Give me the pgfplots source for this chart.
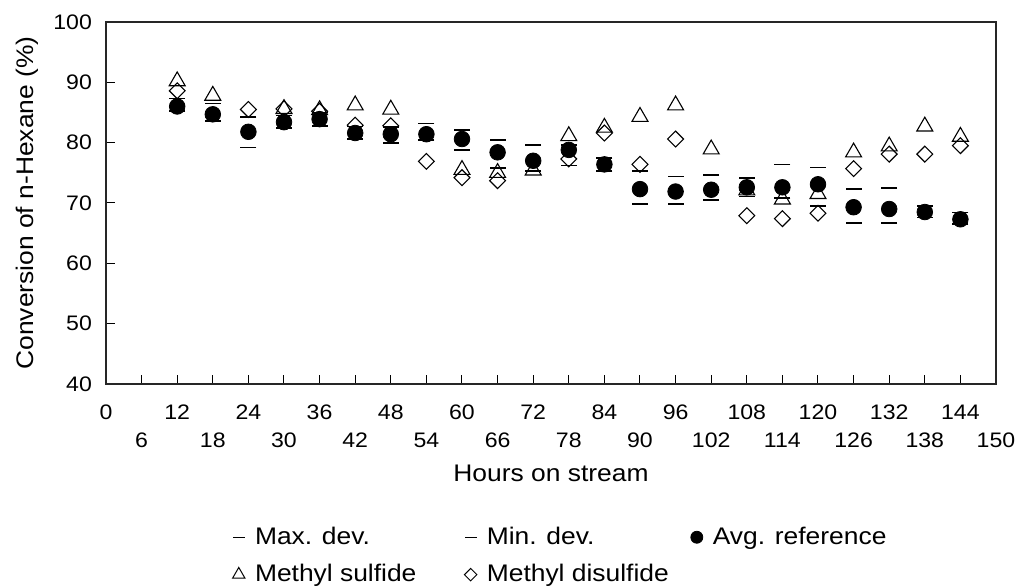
\documentclass[border=0pt]{standalone}
\usepackage{fontspec}
\setmainfont{Liberation Sans}[FakeStretch=1.1]
\usepackage{pgfplots}
\pgfplotsset{compat=1.18}

\begin{document}
\begin{tikzpicture}
\useasboundingbox (-53pt,-102pt) rectangle (456.5pt,192pt);
\begin{axis}[
  scale only axis,
  width=445pt, height=181pt,
  xmin=0, xmax=150, ymin=40, ymax=100,
  xtick={0,6,...,150},
  ytick={40,50,...,100},
  xtick pos=bottom, ytick pos=left,
  tick align=inside,
  major tick length=4.5pt,
  tick style={black, line width=0.5pt},
  axis line style={black!85, line width=0.6pt},
  /pgf/number format/assume math mode=true,
  % labels of every second tick go one row lower
  xticklabel style={font=\fontsize{10.5}{12}\selectfont,
    yshift={-7pt-14pt*mod(\ticknum,2)}},
  yticklabel style={font=\fontsize{10.5}{12}\selectfont, xshift=-3.5pt},
  xlabel={Hours on stream},
  ylabel={Conversion of n-Hexane (\%)},
  label style={font=\fontsize{12}{14}\selectfont},
  xlabel style={at={(axis description cs:0.5,0)}, anchor=center, yshift=-44.5pt},
  ylabel style={at={(axis description cs:-0.0888,0.5)}, anchor=center},
  legend columns=3,
  legend cell align=left,
  legend style={at={(axis description cs:0.135,-0.372)}, anchor=north west,
    draw=none, fill=none, font=\fontsize{12}{14}\selectfont,
    /tikz/every odd column/.append style={column sep=3pt},
    /tikz/column 2/.append style={column sep=22pt},
    /tikz/column 4/.append style={column sep=9pt},
    row sep=4.5pt},
  clip=false,
]
% legend entries
\addlegendimage{only marks, mark=-, mark size=3pt, mark options={line width=0.7pt}}
\addlegendentry{Max. dev.}
\addlegendimage{only marks, mark=-, mark size=3pt, mark options={line width=0.7pt}}
\addlegendentry{Min. dev.}
\addlegendimage{only marks, mark=*, mark size=3pt, black}
\addlegendentry{Avg. reference}
\addlegendimage{only marks, mark=triangle, mark size=3.6pt, black, mark options={line width=0.5pt}}
\addlegendentry{Methyl sulfide}
\addlegendimage{only marks, mark=square, mark size=2.2pt, black, mark options={rotate=45, line width=0.5pt}}
\addlegendentry{Methyl disulfide}

% methyl sulfide
\addplot[forget plot, only marks, mark=triangle, mark size=4.6pt, black, mark options={line width=0.55pt}]
coordinates {(12,90.2) (18,87.8) (30,85.6) (36,85.4) (42,86.2) (48,85.5)
 (60,75.5) (66,75.0) (72,75.4) (78,81.1) (84,82.5) (90,84.3) (96,86.2)
 (102,78.9) (108,72.1) (114,70.6) (120,71.5) (126,78.4) (132,79.4)
 (138,82.7) (144,81.0)};
% methyl disulfide
\addplot[forget plot, only marks, mark=square, mark size=2.8pt, black, mark options={rotate=45, line width=0.55pt}]
coordinates {(12,88.6) (24,85.5) (30,85.6) (36,85.2) (42,82.9) (48,82.8)
 (54,76.9) (60,74.2) (66,73.7) (78,77.3) (84,81.6) (90,76.4) (96,80.6)
 (108,67.9) (114,67.4) (120,68.3) (126,75.7) (132,78.1) (138,78.1) (144,79.5)};
% average of reference runs
\addplot[forget plot, only marks, mark=*, mark size=3.9pt, black]
coordinates {(12,86.0) (18,84.7) (24,81.8) (30,83.4) (36,83.9) (42,81.6)
 (48,81.4) (54,81.4) (60,80.6) (66,78.4) (72,77.0) (78,78.8) (84,76.4)
 (90,72.3) (96,71.9) (102,72.2) (108,72.6) (114,72.6) (120,73.1)
 (126,69.3) (132,69.0) (138,68.5) (144,67.3)};
% maximum deviation
\addplot[forget plot, only marks, mark=-, mark size=4pt, black, mark options={line width=0.8pt}]
coordinates {(12,87.3) (18,86.5) (24,84.3) (30,84.5) (36,85.0) (42,82.7)
 (48,82.6) (54,83.2) (60,82.1) (66,80.4) (72,79.6) (78,79.6) (84,77.5)
 (90,75.3) (96,74.4) (102,74.6) (108,74.1) (114,76.4) (120,75.9)
 (126,72.3) (132,72.5) (138,69.5) (144,68.4)};
% minimum deviation
\addplot[forget plot, only marks, mark=-, mark size=4pt, black, mark options={line width=0.8pt}]
coordinates {(12,85.2) (18,83.6) (24,79.2) (30,82.4) (36,82.8) (42,80.6)
 (48,79.9) (54,80.4) (60,78.8) (66,75.8) (72,75.3) (78,76.2) (84,75.3)
 (90,69.8) (96,69.8) (102,70.5) (108,71.1) (114,70.8) (120,69.5)
 (126,66.7) (132,66.7) (138,67.6) (144,66.5)};
\end{axis}
\end{tikzpicture}
\end{document}
